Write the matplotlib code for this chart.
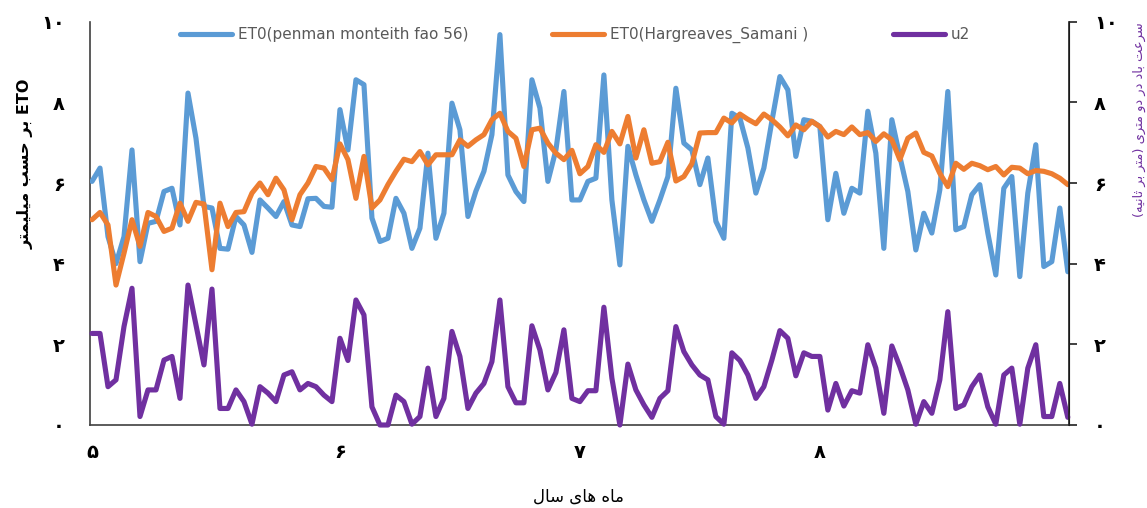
import matplotlib
matplotlib.use('Agg')
import matplotlib.pyplot as plt

W, H = 1147, 508

days = list(range(123))
et0_pm = [6.04, 6.37, 4.67, 4.00, 4.67, 6.82, 4.05, 5.00, 5.05, 5.79, 5.87, 4.96, 8.23, 7.11, 5.42, 5.38,
          4.38, 4.36, 5.17, 4.96, 4.28, 5.58, 5.38, 5.17, 5.54, 4.96, 4.92, 5.61, 5.62, 5.42, 5.40, 7.82,
          6.82, 8.56, 8.44, 5.13, 4.55, 4.63, 5.62, 5.25, 4.38, 4.88, 6.74, 4.63, 5.25, 7.98, 7.32, 5.17,
          5.80, 6.29, 7.20, 9.68, 6.20, 5.79, 5.54, 8.56, 7.86, 6.04, 6.82, 8.27, 5.58, 5.58, 6.04, 6.12,
          8.68, 5.58, 3.97, 6.91, 6.20, 5.58, 5.05, 5.58, 6.16, 8.35, 6.99, 6.82, 5.96, 6.62, 5.05, 4.63,
          7.73, 7.61, 6.87, 5.75, 6.37, 7.53, 8.64, 8.31, 6.66, 7.57, 7.53, 7.40, 5.09, 6.24, 5.25, 5.87,
          5.75, 7.78, 6.74, 4.38, 7.57, 6.66, 5.79, 4.34, 5.25, 4.76, 5.83, 8.27, 4.84, 4.92, 5.71, 5.96,
          4.76, 3.72, 5.87, 6.16, 3.68, 5.75, 6.95, 3.93, 4.05, 5.38, 3.80]
et0_hs = [5.09, 5.27, 4.96, 3.47, 4.26, 5.09, 4.43, 5.27, 5.17, 4.80, 4.88, 5.50, 5.05, 5.52, 5.48, 3.85,
          5.50, 4.92, 5.27, 5.29, 5.75, 6.00, 5.71, 6.12, 5.83, 5.09, 5.71, 6.00, 6.41, 6.37, 6.08, 6.97,
          6.58, 5.62, 6.66, 5.38, 5.58, 5.96, 6.29, 6.59, 6.53, 6.78, 6.45, 6.70, 6.70, 6.70, 7.07, 6.91,
          7.07, 7.20, 7.57, 7.73, 7.28, 7.11, 6.41, 7.32, 7.36, 6.99, 6.74, 6.58, 6.81, 6.23, 6.41, 6.95,
          6.76, 7.28, 6.97, 7.65, 6.62, 7.32, 6.49, 6.53, 7.01, 6.05, 6.16, 6.48, 7.24, 7.25, 7.25, 7.61,
          7.49, 7.71, 7.58, 7.47, 7.71, 7.57, 7.39, 7.17, 7.44, 7.32, 7.53, 7.40, 7.14, 7.28, 7.20, 7.39,
          7.20, 7.25, 7.03, 7.22, 7.07, 6.58, 7.11, 7.24, 6.76, 6.67, 6.24, 5.91, 6.49, 6.34, 6.49, 6.43,
          6.33, 6.41, 6.20, 6.39, 6.37, 6.23, 6.31, 6.29, 6.23, 6.12, 5.96]
u2 = [2.27, 2.27, 0.95, 1.12, 2.44, 3.39, 0.21, 0.87, 0.87, 1.61, 1.70, 0.66, 3.47, 2.48, 1.49, 3.37,
      0.41, 0.41, 0.87, 0.58, 0.02, 0.95, 0.79, 0.58, 1.24, 1.32, 0.87, 1.03, 0.95, 0.74, 0.58, 2.15,
      1.60, 3.10, 2.73, 0.45, 0.00, 0.00, 0.74, 0.58, 0.02, 0.21, 1.41, 0.21, 0.66, 2.32, 1.70, 0.41,
      0.79, 1.03, 1.57, 3.10, 0.95, 0.55, 0.55, 2.46, 1.86, 0.87, 1.30, 2.36, 0.66, 0.58, 0.85, 0.85,
      2.92, 1.16, 0.00, 1.51, 0.87, 0.50, 0.19, 0.66, 0.85, 2.44, 1.82, 1.49, 1.24, 1.12, 0.21, 0.02,
      1.79, 1.60, 1.24, 0.66, 0.95, 1.61, 2.34, 2.15, 1.22, 1.79, 1.70, 1.70, 0.37, 1.03, 0.47, 0.85,
      0.79, 1.99, 1.41, 0.29, 1.96, 1.45, 0.87, 0.02, 0.58, 0.29, 1.12, 2.81, 0.41, 0.50, 0.95, 1.24,
      0.45, 0.02, 1.24, 1.41, 0.02, 1.41, 1.99, 0.21, 0.21, 1.03, 0.19]

month_ticks = [0, 31, 61, 91]
month_labels = ['۵', '۶', '۷', '۸']
y_ticks = [0, 2, 4, 6, 8, 10]
y_labels = ['۰', '۲', '۴', '۶', '۸', '۱۰']

series_names = ['ET0(penman monteith fao 56)', 'ET0(Hargreaves_Samani )', 'u2']
colors = ['#5B9BD5', '#ED7D31', '#7030A0']

# --- minimal Persian shaping (presentation forms) + RTL ordering ---
FORMS = {
    'ا': ('\uFE8D', '\uFE8E', None, None),
    'ب': ('\uFE8F', '\uFE90', '\uFE91', '\uFE92'),
    'ت': ('\uFE95', '\uFE96', '\uFE97', '\uFE98'),
    'ث': ('\uFE99', '\uFE9A', '\uFE9B', '\uFE9C'),
    'ح': ('\uFEA1', '\uFEA2', '\uFEA3', '\uFEA4'),
    'د': ('\uFEA9', '\uFEAA', None, None),
    'ر': ('\uFEAD', '\uFEAE', None, None),
    'س': ('\uFEB1', '\uFEB2', '\uFEB3', '\uFEB4'),
    'ع': ('\uFEC9', '\uFECA', '\uFECB', '\uFECC'),
    'ل': ('\uFEDD', '\uFEDE', '\uFEDF', '\uFEE0'),
    'م': ('\uFEE1', '\uFEE2', '\uFEE3', '\uFEE4'),
    'ن': ('\uFEE5', '\uFEE6', '\uFEE7', '\uFEE8'),
    'ه': ('\uFEE9', '\uFEEA', '\uFEEB', '\uFEEC'),
    'و': ('\uFEED', '\uFEEE', None, None),
    'ی': ('\uFEEF', '\uFEF0', '\uFEF3', '\uFEF4'),
}


def shape(word):
    out = []
    n = len(word)
    for k, ch in enumerate(word):
        if ch not in FORMS:
            out.append(ch)
            continue
        f = FORMS[ch]
        prev = word[k - 1] if k > 0 else None
        nxt = word[k + 1] if k < n - 1 else None
        jp = prev in FORMS and FORMS[prev][2] is not None
        jn = f[2] is not None and nxt in FORMS
        if jp and jn:
            out.append(f[3])
        elif jp:
            out.append(f[1])
        elif jn:
            out.append(f[2])
        else:
            out.append(f[0])
    return ''.join(out)


def rtl(text):
    s = shape(text)[::-1]
    return s.translate(str.maketrans('()', ')('))


fig = plt.figure(figsize=(W / 100, H / 100), dpi=100)
ax = fig.add_axes([90 / W, (H - 425) / H, (1069 - 90) / W, (425 - 21.7) / H])
ax2 = ax.twinx()

lw = 3.7
l1, = ax.plot(days, et0_pm, color=colors[0], lw=lw, solid_joinstyle='round', solid_capstyle='round', zorder=3)
l2, = ax.plot(days, et0_hs, color=colors[1], lw=lw, solid_joinstyle='round', solid_capstyle='round', zorder=4)
l3, = ax2.plot(days, u2, color=colors[2], lw=lw, solid_joinstyle='round', solid_capstyle='round', clip_on=False)

for a in (ax, ax2):
    a.set_ylim(0, 10)
    a.set_xlim(-0.25, 122.15)
    a.spines['top'].set_visible(False)

ax.spines['left'].set_color('#404040')
ax.spines['bottom'].set_color('#404040')
ax.spines['left'].set_linewidth(1.2)
ax.spines['bottom'].set_linewidth(1.2)
ax2.spines['right'].set_color('#202020')
ax2.spines['right'].set_linewidth(1.2)
ax2.spines['left'].set_visible(False)
ax2.spines['bottom'].set_visible(False)

tick_font = dict(family=['DejaVu Sans'], weight='bold', size=14)
ax.set_yticks(y_ticks)
ax.set_yticklabels(y_labels, **tick_font)
ax.tick_params(axis='y', length=0, pad=18)
ax2.set_yticks(y_ticks)
ax2.set_yticklabels(y_labels, **tick_font)
ax2.tick_params(axis='y', length=6, width=1.2, direction='out', pad=12, color='#202020')
ax.set_xticks(month_ticks)
ax.set_xticklabels(month_labels, **tick_font)
ax.tick_params(axis='x', length=0, pad=13)

fig.text(26 / W, 1 - 164 / H, rtl('بر حسب میلیمتر') + ' ETO', rotation=90, ha='center', va='center',
         fontsize=11.5, fontweight='bold', family=['DejaVu Sans'])
fig.text(1139 / W, 1 - 120 / H, rtl('سرعت باد در دو متری (متر بر ثانیه)'), rotation=90, ha='center',
         va='center', fontsize=9.4, color=colors[2], family=['DejaVu Sans'])
fig.text(578 / W, 1 - 497 / H, rtl('ماه های سال'), ha='center', va='center', fontsize=12,
         family=['DejaVu Sans'])

fs = 11
leg = fig.legend([l1, l2, l3], series_names, loc='upper left', bbox_to_anchor=(180 / W, 1 - 27 / H),
                 ncol=3, frameon=False, handlelength=52 / (fs * 1.389),
                 handletextpad=6 / (fs * 1.389), columnspacing=84 / (fs * 1.389), borderpad=0,
                 borderaxespad=0, prop={'family': ['DejaVu Sans'], 'size': fs})
for t in leg.get_texts():
    t.set_color('#595959')

fig.savefig('out.png', dpi=100, facecolor='white')
